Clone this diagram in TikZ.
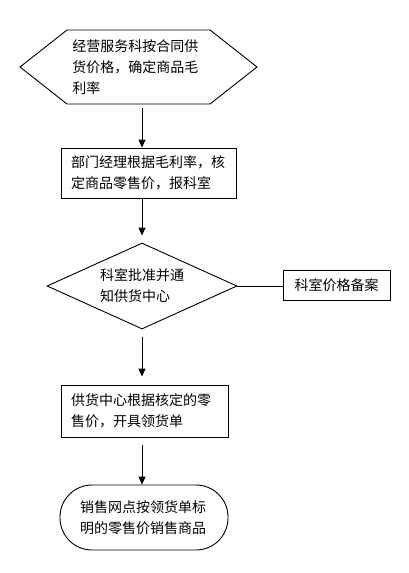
\documentclass[tikz,border=0pt]{standalone}
\usepackage{fontspec}
\setmainfont{Noto Sans CJK SC}
\usetikzlibrary{arrows.meta,shapes.geometric}
\begin{document}
\begin{tikzpicture}[x=1pt,y=-1pt,line width=0.9pt,
  txt/.style={font=\fontsize{14}{21}\selectfont,align=left,inner sep=0pt},
  boxs/.style={draw,rectangle,txt,inner xsep=10pt},
  arr/.style={-{Triangle[width=7pt,length=8pt]}}]
\useasboundingbox (0,0) rectangle (408,573);
% hexagon
\draw (20,67) -- (67,30) -- (210,30) -- (257,67) -- (210,104) -- (67,104) -- cycle;
\coordinate (hexb) at (142,104);
\node[txt,text width=132pt,anchor=west] (hext) at (72,67) {经营服务科按合同供\\货价格，确定商品毛\\利率};
% box 1
\node[boxs,text width=155pt,minimum height=50pt] (b1) at (148.5,173) {部门经理根据毛利率，核\\定商品零售价，报科室};
% diamond
\node[draw,diamond,aspect=2.2,txt,minimum width=190pt,minimum height=86pt] (d) at (142,286) {科室批准并通\\知供货中心};
% side box
\node[draw,rectangle,txt,minimum width=107pt,minimum height=30pt] (s) at (336.5,285) {科室价格备案};
% box 2
\node[boxs,text width=147pt,minimum height=52pt] (b2) at (144.5,411) {供货中心根据核定的零\\售价，开具领货单};
% terminal
\node[draw,rectangle,rounded corners=32pt,txt,text width=128pt,minimum width=168pt,minimum height=65pt] (r) at (144,517.5) {销售网点按领货单标\\明的零售价销售商品};
% connectors
\draw[arr,shorten <=4pt] (hexb) -- (b1.north -| hexb);
\draw[arr,shorten >=7pt] (b1.south -| hexb) -- (d.north);
\draw (d.east) -- (d.east -| s.west);
\draw[arr,shorten <=8pt,shorten >=8pt] (d.south) -- (b2.north -| d.south);
\draw[arr,shorten <=8pt] (b2.south -| d.south) -- (r.north -| d.south);
\end{tikzpicture}
\end{document}
